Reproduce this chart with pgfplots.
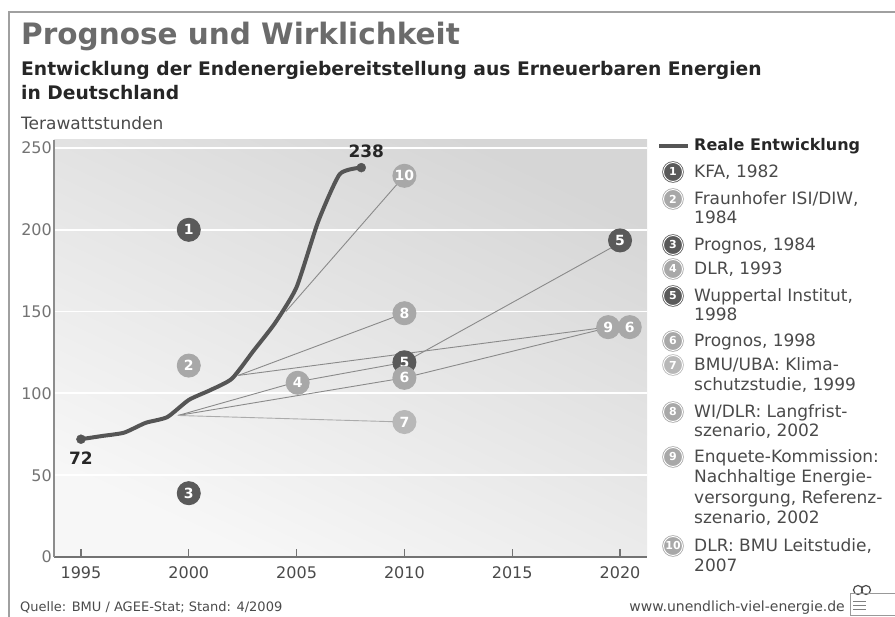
\documentclass[border=0pt]{standalone}
\usepackage{fontspec}
\setmainfont{DejaVu Sans}
\usepackage{pgfplots}
\pgfplotsset{compat=1.18}
\definecolor{cReal}{HTML}{555555}
\definecolor{cDark}{HTML}{5A5A5A}
\definecolor{cLight}{HTML}{A8A8A8}
\definecolor{cSeven}{HTML}{B8B8B8}
\definecolor{cLine}{HTML}{8A8A8A}
\definecolor{cLineL}{HTML}{ABABAB}
\definecolor{cTitle}{HTML}{6B6B6B}
\definecolor{cText}{HTML}{4A4A4A}
\definecolor{cFrame}{HTML}{A0A0A0}
\newcommand{\fs}[1]{\fontsize{#1}{#1}\selectfont}
% marker in the plot: fill, number, x, y
\newcommand{\mk}[4]{%
\addplot[only marks, mark=*, mark size=11.5pt,
  mark options={draw=#1, fill=#1, double=white, double distance=1.1pt, line width=1pt},
  nodes near coords={#2},
  every node near coord/.style={anchor=center, text=white, font=\fs{14}\bfseries, inner sep=0pt}]
  coordinates {(#3,#4)};}
\newcommand{\lgc}[3]{% fill, number, y(px)
\node[circle, draw=#1, fill=#1, double=white, double distance=0.9pt, line width=0.8pt,
  minimum size=19pt, inner sep=0pt, text=white, font=\fs{11}\bfseries] at (673,617-#3) {#2};}
\newcommand{\lgt}[2]{\node[anchor=base west, inner sep=0pt, text=cText, font=\fs{17}] at (694,617-#1) {#2};}
\begin{document}
\begin{tikzpicture}[x=1pt,y=1pt]
\useasboundingbox (0,0) rectangle (895,617);
\draw[cFrame, line width=2pt] (9,-10) -- (9,604.5) -- (910,604.5);
% titles
\node[anchor=base west, inner sep=0pt, text=cTitle, font=\fs{29.5}\bfseries] at (21,572) {Prognose und Wirklichkeit};
\node[anchor=base west, inner sep=0pt, text=black!85, font=\fs{18.7}\bfseries] at (21,541) {Entwicklung der Endenergiebereitstellung aus Erneuerbaren Energien};
\node[anchor=base west, inner sep=0pt, text=black!85, font=\fs{18.7}\bfseries] at (21,517) {in Deutschland};
\node[anchor=base west, inner sep=0pt, text=cText, font=\fs{17}] at (21,487) {Terawattstunden};
\begin{axis}[at={(54pt,60pt)}, anchor=south west, scale only axis,
  width=593pt, height=417pt,
  xmin=1993.75, xmax=2021.25, ymin=0, ymax=254.9,
  axis lines=left, axis line style={-},
  x axis line style={draw=black!55, line width=2pt},
  y axis line style={draw=black!45, line width=1.4pt},
  axis background/.style={shade, top color=black!16, bottom color=black!3, shading angle=-25},
  xtick={1995,2000,2005,2010,2015,2020},
  ytick={0,50,100,150,200,250},
  tick align=inside, major tick length=8pt,
  x tick style={draw=black!55, line width=1.2pt},
  y tick style={draw=none},
  ymajorgrids, grid style={white, line width=1.8pt},
  /pgf/number format/1000 sep={},
  /pgf/number format/assume math mode=true,
  xticklabel style={font=\fs{16}, text=cText, yshift=-6pt},
  yticklabel style={font=\fs{16}, text=black!55, inner sep=2pt},
  clip=false]
% prognosis lines
\addplot[cLine, line width=0.9pt] coordinates {(1999.5,86.5) (2005,107) (2010,119) (2020,192)}; % 4 + 5
\addplot[cLine, line width=0.9pt] coordinates {(1999.5,86.5) (2010,109.5) (2019.4,140)}; % 6
\addplot[cLineL, line width=0.9pt] coordinates {(1999.5,86.5) (2010,82.5)}; % 7
\addplot[cLine, line width=0.9pt] coordinates {(2002.3,111) (2010,149)}; % 8
\addplot[cLine, line width=0.9pt] coordinates {(2002.3,111) (2019.4,140.5)}; % 9
\addplot[cLine, line width=0.9pt] coordinates {(2004.5,150) (2010,233)}; % 10
% real development
\addplot[cReal, line width=4pt, smooth, tension=0.35] coordinates {
(1995,72) (1996,74) (1997,76) (1998,82) (1999,85.5) (2000,96) (2001,102) (2002,109)
(2003,126) (2004,143) (2005,165) (2006,205) (2007,234) (2008,238)};
\addplot[only marks, mark=*, mark size=4.5pt, color=cReal] coordinates {(1995,72) (2008,238)};
\addplot[draw=none, mark=none, nodes near coords={72},
  every node near coord/.style={anchor=north, yshift=-9pt, font=\fs{17}\bfseries, text=black!85}] coordinates {(1995,72)};
\addplot[draw=none, mark=none, nodes near coords={238},
  every node near coord/.style={anchor=south, yshift=6pt, xshift=5pt, font=\fs{17}\bfseries, text=black!85}] coordinates {(2008,238)};
% numbered markers
\mk{cDark}{1}{2000}{200}
\mk{cLight}{2}{2000}{117}
\mk{cDark}{3}{2000}{39}
\mk{cLight}{4}{2005.05}{106.5}
\mk{cDark}{5}{2010}{119}
\mk{cLight}{6}{2010}{109.5}
\mk{cSeven}{7}{2010}{82.5}
\mk{cLight}{8}{2010}{149}
\mk{cLight}{10}{2010}{233}
\mk{cDark}{5}{2020}{193.5}
\mk{cLight}{9}{2019.45}{140.5}
\mk{cLight}{6}{2020.45}{140.5}
\end{axis}
% legend
\draw[cReal, line width=3.5pt] (659,617-146) -- (688,617-146);
\node[anchor=base west, inner sep=0pt, text=black!85, font=\fs{16}\bfseries] at (694,617-151) {Reale Entwicklung};
\lgc{cDark}{1}{172}\lgt{178}{KFA, 1982}
\lgc{cLight}{2}{199}\lgt{205}{Fraunhofer ISI/DIW,}\lgt{224}{1984}
\lgc{cDark}{3}{245}\lgt{251}{Prognos, 1984}
\lgc{cLight}{4}{269}\lgt{275}{DLR, 1993}
\lgc{cDark}{5}{296}\lgt{302}{Wuppertal Institut,}\lgt{321}{1998}
\lgc{cLight}{6}{341}\lgt{347}{Prognos, 1998}
\lgc{cSeven}{7}{365}\lgt{371}{BMU/UBA: Klima-}\lgt{391}{schutzstudie, 1999}
\lgc{cLight}{8}{412}\lgt{418}{WI/DLR: Langfrist-}\lgt{437}{szenario, 2002}
\lgc{cLight}{9}{457}\lgt{463}{Enquete-Kommission:}\lgt{483}{Nachhaltige Energie-}\lgt{504}{versorgung, Referenz-}\lgt{524}{szenario, 2002}
\lgc{cLight}{10}{546}\lgt{552}{DLR: BMU Leitstudie,}\lgt{572}{2007}
% footer
\node[anchor=base west, inner sep=0pt, text=cText, font=\fs{13}] at (20,5) {Quelle: BMU / AGEE-Stat; Stand: 4/2009};
\node[anchor=base east, inner sep=0pt, text=cText, font=\fs{14}] at (845,5) {www.unendlich-viel-energie.de};
% logo
\draw[black!70, line width=1.2pt] (858,27) circle (4.5) (866,27) circle (4.5);
\draw[black!40, line width=0.6pt] (850,2) rectangle (897,24);
\foreach \yy in {8,12,16} \draw[black!50, line width=0.8pt] (853,\yy) -- (866,\yy);
\end{tikzpicture}
\end{document}
